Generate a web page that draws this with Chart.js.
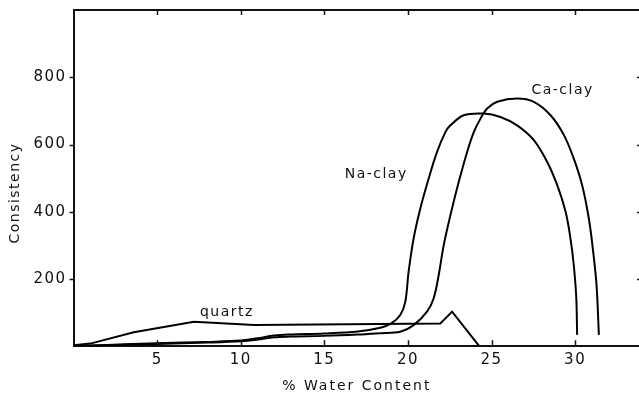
<!DOCTYPE html>
<html>
<head>
<meta charset="utf-8">
<style>
  html, body { margin: 0; padding: 0; background: #fff; overflow: hidden; }
  canvas { display: block; }
</style>
<script src="https://cdn.jsdelivr.net/npm/chart.js@4/dist/chart.umd.min.js"></script>
</head>
<body>
<canvas id="c" width="642" height="394"></canvas>
<script>
// Tick positions
const xTicks = [5, 10, 15, 20, 25, 30];
const yTicks = [200, 400, 600, 800];

// Na-clay: consistency vs % water content
const naX = [0, 2, 5, 8, 10, 11, 12, 13, 15, 17, 18.35, 19.0, 19.54, 19.84, 20.04, 20.34, 20.74, 21.24, 21.74, 22.24, 22.54, 23.34, 24.53, 25.53, 26.53, 27.53, 28.33, 28.93, 29.43, 29.72, 29.92, 30.07, 30.12];
const naY = [0, 4, 9, 13, 17, 24, 32, 35, 38, 44, 55, 68, 93, 132, 222, 321, 410, 499, 578, 637, 657, 687, 692, 682, 657, 613, 548, 479, 400, 321, 241, 143, 34];

// Ca-clay
const caX = [0, 2, 5, 8, 10, 11, 12, 13, 15, 17, 18.35, 19.54, 20.34, 21.14, 21.54, 21.84, 22.14, 22.54, 23.04, 23.54, 23.94, 24.34, 24.74, 25.34, 26.53, 27.53, 28.53, 29.33, 29.92, 30.42, 30.82, 31.08, 31.28, 31.42];
const caY = [0, 3, 7, 11, 15, 20, 27, 29, 31, 35, 39, 43, 63, 103, 143, 212, 301, 390, 489, 578, 637, 677, 707, 727, 737, 727, 687, 628, 558, 479, 380, 281, 182, 34];

// Quartz
const qzX = [0, 1, 3.6, 7.2, 10.8, 21.94, 22.64, 24.24];
const qzY = [3, 8, 42, 73, 63, 68, 103, 2];

// Curve labels: [text, x, y]
const curveLabels = [
  ['Na-clay', 18.1, 512],
  ['Ca-clay', 29.25, 761],
  ['quartz', 9.17, 102]
];

const xTitle = '% Water Content';
const yTitle = 'Consistency';

const FONT = '"DejaVu Sans", sans-serif';
const INK = '#111';

const pts = (xs, ys) => xs.map((x, i) => ({ x, y: ys[i] }));

const spacing = {
  id: 'spacing',
  beforeUpdate(chart) { chart.ctx.letterSpacing = '1.5px'; },
  beforeDraw(chart) { chart.ctx.letterSpacing = '1.5px'; }
};

const frame = {
  id: 'frame',
  afterDraw(chart) {
    const { ctx, chartArea: a, scales: { x, y } } = chart;
    ctx.save();
    ctx.strokeStyle = INK;
    ctx.lineWidth = 2;
    // top and right borders
    ctx.beginPath();
    ctx.moveTo(a.left, a.top);
    ctx.lineTo(a.right, a.top);
    ctx.lineTo(a.right, a.bottom);
    ctx.stroke();
    // inward tick marks
    ctx.lineWidth = 1.5;
    ctx.beginPath();
    xTicks.forEach(v => {
      const px = Math.round(x.getPixelForValue(v)) + 0.5;
      ctx.moveTo(px, a.bottom); ctx.lineTo(px, a.bottom - 6);
      ctx.moveTo(px, a.top); ctx.lineTo(px, a.top + 5);
    });
    yTicks.forEach(v => {
      const py = Math.round(y.getPixelForValue(v)) + 0.5;
      ctx.moveTo(a.right, py); ctx.lineTo(a.right - 5, py);
      ctx.moveTo(a.left - 4, py); ctx.lineTo(a.left, py);
    });
    ctx.stroke();

    // curve labels and axis titles
    ctx.fillStyle = INK;
    ctx.letterSpacing = '1.5px';
    ctx.textAlign = 'center';
    ctx.textBaseline = 'middle';
    ctx.font = '14px ' + FONT;
    curveLabels.forEach(([t, vx, vy]) => {
      ctx.fillText(t, x.getPixelForValue(vx), y.getPixelForValue(vy));
    });
    ctx.letterSpacing = '2px';
    ctx.fillText(xTitle, (a.left + a.right) / 2 - 1, 386);
    ctx.translate(15, 193);
    ctx.rotate(-Math.PI / 2);
    ctx.letterSpacing = '1.5px';
    ctx.fillText(yTitle, 0, 0);
    ctx.restore();
  }
};

const line = (label, data, tension) => ({
  label, data,
  showLine: true,
  borderColor: '#000',
  borderWidth: 2,
  pointRadius: 0,
  fill: false,
  tension
});

new Chart(document.getElementById('c'), {
  type: 'scatter',
  data: {
    datasets: [
      line('Na-clay', pts(naX, naY), 0.35),
      line('Ca-clay', pts(caX, caY), 0.35),
      line('quartz', pts(qzX, qzY), 0)
    ]
  },
  options: {
    responsive: false,
    animation: false,
    layout: { padding: { top: 10, right: 0, left: 0, bottom: 0 } },
    plugins: { legend: { display: false }, tooltip: { enabled: false } },
    scales: {
      x: {
        type: 'linear', min: 0, max: 34,
        grid: { display: false, drawTicks: false, tickLength: 0 },
        border: { display: true, color: INK, width: 2 },
        afterBuildTicks: s => { s.ticks = xTicks.map(v => ({ value: v })); },
        afterFit: s => { s.height = 47.7; s.paddingLeft = 0; s.paddingRight = 0; },
        ticks: { color: INK, font: { family: FONT, size: 15 }, padding: 5, maxRotation: 0, autoSkip: false }
      },
      y: {
        type: 'linear', min: 0, max: 1000,
        grid: { display: false, drawTicks: false, tickLength: 0 },
        border: { display: true, color: INK, width: 2 },
        afterBuildTicks: s => { s.ticks = yTicks.map(v => ({ value: v })); },
        afterFit: s => { s.width = 73.6; s.paddingTop = 0; s.paddingBottom = 0; },
        ticks: { color: INK, font: { family: FONT, size: 15 }, padding: 7 }
      }
    }
  },
  plugins: [spacing, frame]
});
</script>
</body>
</html>
